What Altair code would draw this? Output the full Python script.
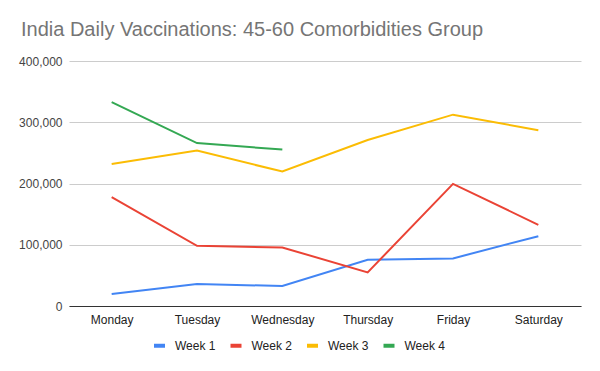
import altair as alt
import pandas as pd

days = ["Monday", "Tuesday", "Wednesday", "Thursday", "Friday", "Saturday"]
week1 = [19600, 35900, 32600, 75500, 77700, 114000]
week2 = [177700, 98300, 95600, 54800, 199400, 132600]
week3 = [232000, 253700, 219500, 271000, 312400, 287000]
week4 = [333000, 266000, 255400]
series_names = ["Week 1", "Week 2", "Week 3", "Week 4"]
series_colors = ["#4285F4", "#EA4335", "#FBBC04", "#34A853"]

rows = []
for name, vals in zip(series_names, [week1, week2, week3, week4]):
    for i, v in enumerate(vals):
        rows.append({"Day": days[i], "Series": name, "Value": v, "order": i})
df = pd.DataFrame(rows)

FONT = "Liberation Sans"

chart = alt.Chart(df).mark_line(strokeWidth=2).encode(
    x=alt.X("Day:N", sort=days, title=None,
            scale=alt.Scale(type="point", padding=0.5),
            axis=alt.Axis(labelAngle=0, ticks=False, grid=False, domainColor="#333333",
                          labelColor="#222222", labelFontSize=12, labelFont=FONT,
                          labelPadding=8)),
    y=alt.Y("Value:Q", title=None,
            scale=alt.Scale(domain=[0, 400000], nice=False),
            axis=alt.Axis(values=[0, 100000, 200000, 300000, 400000], format=",.0f",
                          ticks=False, domain=False, gridColor="#cccccc",
                          labelColor="#444444", labelFontSize=12, labelFont=FONT,
                          labelPadding=7)),
    color=alt.Color("Series:N", sort=series_names,
                    scale=alt.Scale(domain=series_names, range=series_colors),
                    legend=alt.Legend(title=None, orient="none", direction="horizontal",
                                      legendX=83, legendY=277,
                                      symbolType="stroke", symbolSize=121,
                                      symbolStrokeWidth=4, labelFontSize=12,
                                      labelFont=FONT, labelColor="#222222",
                                      labelOffset=8, columnPadding=6.5)),
    order="order:Q",
).properties(
    width=512,
    height=245,
    autosize=alt.AutoSizeParams(type="none"),
    padding={"left": 61, "top": 53, "right": 11, "bottom": 57},
    title=alt.TitleParams(
        "India Daily Vaccinations: 45-60 Comorbidities Group",
        anchor="start", frame="group", dx=-48, dy=24, offset=23, baseline="alphabetic",
        fontSize=20, font=FONT, fontWeight="normal", color="#757575",
    ),
).configure_view(stroke=None)

chart.save("out.html", embed_options={"renderer": "svg", "actions": False})
